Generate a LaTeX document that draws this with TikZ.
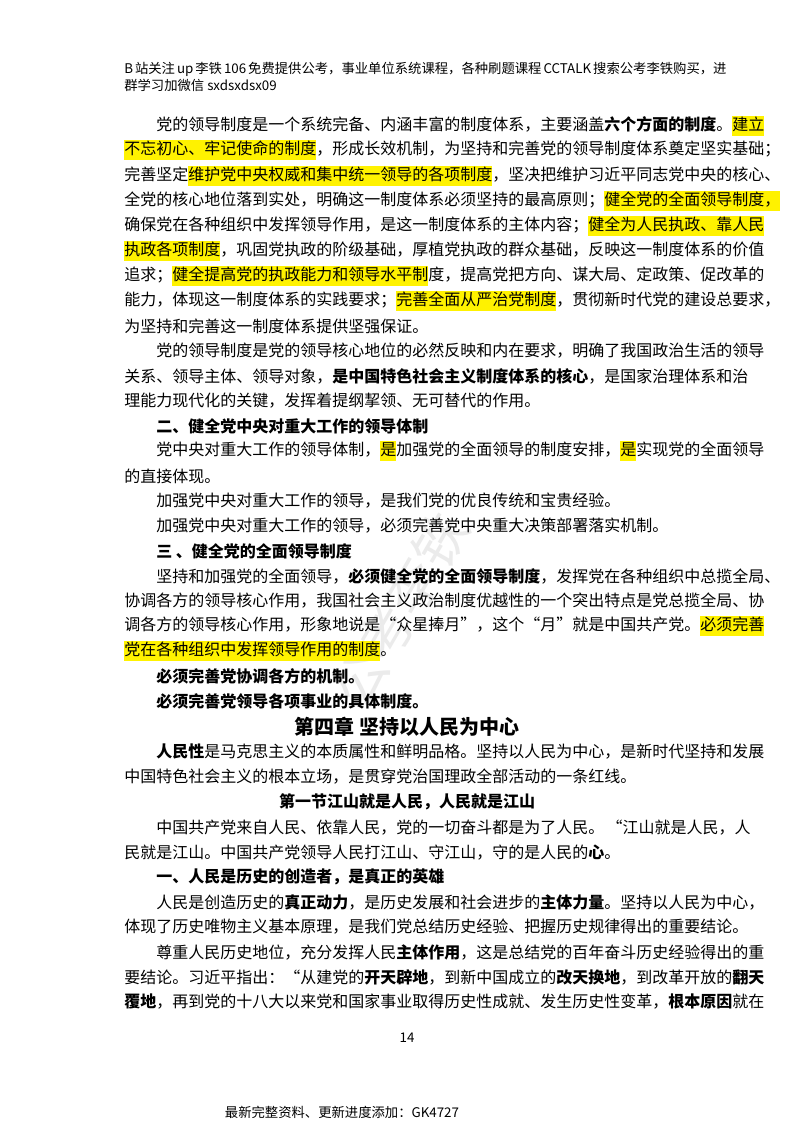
\documentclass[tikz,border=0pt]{standalone}
\usepackage{fontspec}
\setmainfont{Noto Sans CJK SC}
\XeTeXlinebreaklocale "zh"
\XeTeXlinebreakskip=0pt plus 3pt
\newcommand\hl[1]{{\fboxsep=0pt\colorbox{yellow}{\rule[-4.5pt]{0pt}{15pt}#1}}}
\newcommand\FL[2]{\node[anchor=west,inner sep=0pt] at (124,#1) {\hbox to 424.5pt{#2}};}
\newcommand\IL[2]{\node[anchor=west,inner sep=0pt] at (156,#1) {\hbox to 400.5pt{#2}};}
\newcommand\NL[2]{\node[anchor=west,inner sep=0pt] at (124,#1) {#2};}
\newcommand\NI[2]{\node[anchor=west,inner sep=0pt] at (156,#1) {#2};}
\begin{document}
\begin{tikzpicture}[x=0.75pt,y=-0.75pt,font=\fontsize{12pt}{14pt}\selectfont]
\fill[white] (0,0) rectangle (800,1132);
\useasboundingbox (0,0) rectangle (800,1132);
\node[rotate=60,text=black!8,font=\fontsize{40pt}{40pt}\selectfont] at (400,610) {公考李铁};
\node[anchor=west,inner sep=0pt,font=\fontsize{10pt}{12pt}\selectfont] at (124,69) {\hbox to 424.5pt{B 站关注 up 李铁 106 免费提供公考，事业单位系统课程，各种刷题课程 CCTALK 搜索公考李铁购买，进}};
\node[anchor=west,inner sep=0pt,font=\fontsize{10pt}{12pt}\selectfont] at (124,85) {群学习加微信 sxdsxdsx09};
\IL{126}{党的领导制度是一个系统完备、内涵丰富的制度体系，主要涵盖\textbf{六个方面的制度}。\hl{建立}}
\FL{150}{\hl{不忘初心、牢记使命的制度}，形成长效机制，为坚持和完善党的领导制度体系奠定坚实基础；}
\FL{176}{完善坚定\hl{维护党中央权威和集中统一领导的各项制度}，坚决把维护习近平同志党中央的核心、}
\FL{201}{全党的核心地位落到实处，明确这一制度体系必须坚持的最高原则；\hl{健全党的全面领导制度，}}
\FL{226}{确保党在各种组织中发挥领导作用，是这一制度体系的主体内容；\hl{健全为人民执政、靠人民}}
\FL{251}{\hl{执政各项制度}，巩固党执政的阶级基础，厚植党执政的群众基础，反映这一制度体系的价值}
\FL{276}{追求；\hl{健全提高党的执政能力和领导水平制}度，提高党把方向、谋大局、定政策、促改革的}
\FL{301}{能力，体现这一制度体系的实践要求；\hl{完善全面从严治党制度}，贯彻新时代党的建设总要求，}
\NL{326}{为坚持和完善这一制度体系提供坚强保证。}
\IL{351}{党的领导制度是党的领导核心地位的必然反映和内在要求，明确了我国政治生活的领导}
\FL{376}{关系、领导主体、领导对象，\textbf{是中国特色社会主义制度体系的核心}，是国家治理体系和治}
\NL{401}{理能力现代化的关键，发挥着提纲挈领、无可替代的作用。}
\NI{426}{\textbf{二、健全党中央对重大工作的领导体制}}
\IL{451}{党中央对重大工作的领导体制，\hl{是}加强党的全面领导的制度安排，\hl{是}实现党的全面领导}
\NL{476}{的直接体现。}
\NI{501}{加强党中央对重大工作的领导，是我们党的优良传统和宝贵经验。}
\NI{526}{加强党中央对重大工作的领导，必须完善党中央重大决策部署落实机制。}
\NI{551}{\textbf{三 、健全党的全面领导制度}}
\IL{576}{坚持和加强党的全面领导，\textbf{必须健全党的全面领导制度}，发挥党在各种组织中总揽全局、}
\FL{601}{协调各方的领导核心作用，我国社会主义政治制度优越性的一个突出特点是党总揽全局、协}
\FL{626}{调各方的领导核心作用，形象地说是“众星捧月”，这个“月”就是中国共产党。\hl{必须完善}}
\NL{651}{\hl{党在各种组织中发挥领导作用的制度}。}
\NI{676}{\textbf{必须完善党协调各方的机制。}}
\NI{701}{\textbf{必须完善党领导各项事业的具体制度。}}
\node[font=\fontsize{15pt}{18pt}\selectfont\bfseries] at (407,727) {第四章 坚持以人民为中心};
\IL{752}{\textbf{人民性}是马克思主义的本质属性和鲜明品格。坚持以人民为中心，是新时代坚持和发展}
\NL{777}{中国特色社会主义的根本立场，是贯穿党治国理政全部活动的一条红线。}
\node[font=\fontsize{12pt}{14pt}\selectfont\bfseries] at (407,802) {第一节江山就是人民，人民就是江山};
\IL{828}{中国共产党来自人民、依靠人民，党的一切奋斗都是为了人民。 “江山就是人民，人}
\NL{853}{民就是江山。中国共产党领导人民打江山、守江山，守的是人民的\textbf{心}。}
\NI{877}{\textbf{一、人民是历史的创造者，是真正的英雄}}
\IL{902}{人民是创造历史的\textbf{真正动力}，是历史发展和社会进步的\textbf{主体力量}。坚持以人民为中心，}
\FL{927}{体现了历史唯物主义基本原理，是我们党总结历史经验、把握历史规律得出的重要结论。}
\IL{952}{尊重人民历史地位，充分发挥人民\textbf{主体作用}，这是总结党的百年奋斗历史经验得出的重}
\FL{977}{要结论。习近平指出：“从建党的\textbf{开天辟地}，到新中国成立的\textbf{改天换地}，到改革开放的\textbf{翻天}}
\FL{1002}{\textbf{覆地}，再到党的十八大以来党和国家事业取得历史性成就、发生历史性变革，\textbf{根本原因}就在}
\node[font=\fontsize{10pt}{12pt}\selectfont] at (407,1038) {14};
\node[font=\fontsize{10pt}{12pt}\selectfont] at (342,1112) {最新完整资料、更新进度添加：GK4727};
\end{tikzpicture}
\end{document}
